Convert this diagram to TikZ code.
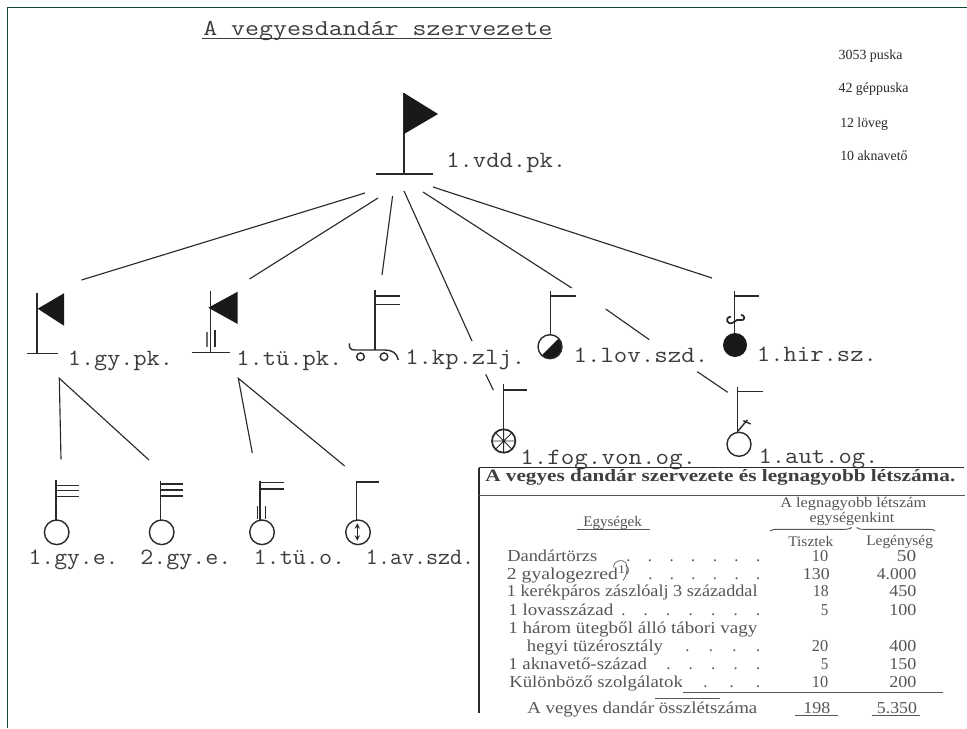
\documentclass[tikz,border=0pt]{standalone}
\usepackage{graphicx}
\usepackage{fontspec}
\setmainfont{Liberation Serif}
\newfontfamily\tw{Latin Modern Mono}
\newdimen\pxu \pxu=0.75pt
\definecolor{edgegreen}{HTML}{0F4A2C}
\definecolor{ink}{HTML}{2A2A2A}
\definecolor{tinktype}{HTML}{3C3C3C}
\definecolor{tinktab}{HTML}{555555}
\tikzset{
  typew/.style={inner sep=0,anchor=base west,text=tinktype,font=\tw\fontsize{17.5}{19}\selectfont},
  titlew/.style={inner sep=0,anchor=base west,text=tinktype,font=\tw\fontsize{17}{19}\selectfont},
  noteT/.style={inner sep=0,anchor=base west,text=ink,font=\fontsize{10.5}{12}\selectfont},
  tabT/.style={inner sep=0,anchor=base west,text=tinktab,font=\fontsize{12.5}{14}\selectfont},
  headT/.style={inner sep=0,anchor=base west,text=tinktab,font=\fontsize{11}{13}\selectfont},
  capT/.style={inner sep=0,anchor=base west,text=ink!90,font=\bfseries\fontsize{13}{15}\selectfont},
  conn/.style={draw=ink,line width=0.85pt},
  sym/.style={draw=ink,line width=1.05pt},
  thin rule/.style={draw=tinktab,line width=0.7pt},
  solidblk/.style={fill=black!90,draw=none},
}
% style, name, x, baseline y, width, text
\newcommand\lab[6]{\node[#1] (#2) at (#3,#4) {\resizebox{#5\pxu}{\height}{#6}};}
% style, name, x, baseline y, width, dots spread over the width
\newcommand\dotrow[5]{\node[#1] (#2) at (#3,#4) {\makebox[#5\pxu][s]{. . . . . . .}};}
\newcommand\dotrowN[6]{\node[#1] (#2) at (#3,#4) {\makebox[#5\pxu][s]{#6}};}
\begin{document}
\begin{tikzpicture}[x=0.75pt,y=-0.75pt]
\useasboundingbox (0,0) rectangle (967,728);
\fill[white] (0,0) rectangle (967,728);
\draw[edgegreen,line width=0.9pt] (967,7.3) -- (7.3,7.3) -- (7.3,728);

% title
\lab{titlew}{ttl}{203}{35}{349}{A vegyesdand\'ar szervezete}
\coordinate (ttlL) at (202,38.3); \coordinate (ttlR) at (552,38.3);
\draw[draw=tinktype,line width=0.8pt] (ttlL) -- (ttlR);

% notes
\lab{noteT}{n1}{838.3}{59.3}{64}{3053 puska}
\lab{noteT}{n2}{838.3}{92.7}{70}{42 géppuska}
\lab{noteT}{n3}{840}{127}{47.7}{12 löveg}
\lab{noteT}{n4}{840}{160.7}{67.3}{10 aknavető}

% top flag
\draw[sym] (404,93) -- (404,174);
\fill[solidblk] (404,93) -- (438,114) -- (404,134) -- cycle;
\draw[ink,line width=1.9pt] (376,174) -- (433,174);
\lab{typew}{vdd}{446}{167}{120}{1.vdd.pk.}

% regiments
\draw[sym] (37,293) -- (37,353);
\fill[solidblk] (37.7,308.7) -- (64,293.3) -- (64,325.7) -- cycle;
\draw[sym] (27,353.5) -- (58,353.5);
\lab{typew}{gypk}{67.7}{365.7}{105}{1.gy.pk.}

\draw[sym] (210.7,290.7) -- (210.7,352);
\fill[solidblk] (208.3,307.7) -- (237.7,291.7) -- (237.7,324) -- cycle;
\draw[sym] (191.7,352.7) -- (230,352.7);
\draw[sym,draw=ink!70,line width=1.4pt] (207.3,331.7) -- (207.3,347);
\draw[sym] (215,330) -- (215,346.7);
\lab{typew}{tupk}{236}{365}{106}{1.tü.pk.}

% bicycle battalion
\draw[sym] (375,290) -- (375,350);
\draw[sym] (375,296) -- (400,296) (375,304.3) -- (400,304.3);
\draw[sym] (349.3,343.3) .. controls (349.3,348) and (350,350) .. (355,350) -- (385,350) .. controls (392,350) and (397,353) .. (398.3,360);
\draw[sym] (360.5,356.7) circle[radius=3.8\pxu] (384,356.7) circle[radius=3.8\pxu];
\lab{typew}{kp}{405}{364}{120}{1.kp.zlj.}

% cavalry
\draw[sym] (550.7,290.7) -- (550.7,335) (550.7,296) -- (575.7,296);
\begin{scope}
\clip (533,364) -- (567,330) -- (567,364) -- cycle;
\fill[black!90] (550,346.7) circle[radius=12\pxu];
\end{scope}
\draw[sym] (550,346.7) circle[radius=12\pxu];
\lab{typew}{lov}{573.3}{362}{134.7}{1.lov.szd.}

% signals
\draw[sym] (734.7,290.7) -- (734.7,335) (734.7,296) -- (759.3,296);
\draw[sym,line width=1.3pt] (731,316.7) .. controls (727,316.5) and (725.5,321) .. (729,323) .. controls (732,324.5) and (735,321) .. (737,320) .. controls (740,319) and (744,322) .. (744.3,317.5) .. controls (744.3,315.5) and (742,315) .. (741,315);
\fill[black!90] (735,345) circle[radius=12\pxu];
\lab{typew}{hir}{756.7}{361.7}{120}{1.hir.sz.}

% motorcycle platoon
\draw[sym] (503.3,384) -- (503.3,429.3) (503.3,390) -- (526.7,390);
\draw[sym,line width=1.3pt] (503.7,441) circle[radius=11.7\pxu];
\draw[sym,line width=0.7pt] (503.7,429.3) -- (503.7,452.7) (492,441) -- (515.4,441) (495.4,432.7) -- (512,449.3) (495.4,449.3) -- (512,432.7);
\lab{typew}{fog}{520}{464}{176}{1.fog.von.og.}

% automatic platoon
\draw[sym] (737.3,386.7) -- (737.3,431.7) (737.3,391.7) -- (762.7,391.7);
\draw[sym] (737.3,431.7) -- (747.3,420) (743.3,420.7) -- (750.7,424);
\draw[sym] (739,444.3) circle[radius=12\pxu];
\lab{typew}{aut}{758.3}{463}{120}{1.aut.og.}

% bottom row
\draw[sym] (56,480) -- (56,520) (56,485.7) -- (79,485.7) (56,490.7) -- (79,490.7) (56,496.7) -- (79,496.7);
\draw[sym] (56.7,532.3) circle[radius=12.3\pxu];
\lab{typew}{gye1}{28.3}{564}{90}{1.gy.e.}

\draw[sym] (160.3,480.7) -- (160.3,520) (160.3,484) -- (182.7,484) (160.3,490) -- (182.7,490) (160.3,496) -- (182.7,496);
\draw[sym] (161.7,532.3) circle[radius=12.3\pxu];
\lab{typew}{gye2}{140}{564}{91}{2.gy.e.}

\draw[sym] (260,480.7) -- (260,520) (260,482.7) -- (284,482.7) (260,489) -- (284,489);
\draw[sym] (257.3,506) -- (257.3,519.3) (265.3,506) -- (265.3,519.3);
\draw[sym] (262,532.3) circle[radius=12.3\pxu];
\lab{typew}{tuo}{253.3}{564}{91.7}{1.tü.o.}

\draw[sym] (356.7,480.7) -- (356.7,520) (356.7,482) -- (378.7,482);
\draw[sym] (358,532.3) circle[radius=12.3\pxu];
\draw[sym,line width=0.8pt,stealth-stealth] (357.3,523.3) -- (357.3,540.7);
\lab{typew}{avszd}{365.7}{564}{108.3}{1.av.szd.}

% connectors
\coordinate (a1) at (365,193);   \coordinate (b1) at (81.5,280);
\coordinate (a2) at (378,198);   \coordinate (b2) at (249.5,279);
\coordinate (a3) at (392.6,196); \coordinate (b3) at (382,275);
\coordinate (a4) at (404,191);   \coordinate (b4) at (472,341);
\coordinate (d4) at (485.7,374.3); \coordinate (e4) at (493.3,390);
\coordinate (a5) at (423,192);   \coordinate (b5) at (571.7,288);
\coordinate (d5) at (605.7,309); \coordinate (e5) at (649.3,339.7);
\coordinate (f5) at (697.3,371.7); \coordinate (g5) at (727.7,392.3);
\coordinate (a6) at (433,187);   \coordinate (b6) at (712,278);
\draw[conn] (a1) -- (b1);
\draw[conn] (a2) -- (b2);
\draw[conn] (a3) -- (b3);
\draw[conn] (a4) -- (b4);
\draw[conn] (d4) -- (e4);
\draw[conn] (a5) -- (b5);
\draw[conn] (d5) -- (e5);
\draw[conn] (f5) -- (g5);
\draw[conn] (a6) -- (b6);
\coordinate (gyA) at (59.3,378.3); \coordinate (gyB) at (61,459.3); \coordinate (gyC) at (149,460);
\coordinate (tuA) at (238.3,378.3); \coordinate (tuB) at (252.3,453); \coordinate (tuC) at (344.7,466);
\draw[conn] (gyB) -- (gyA) -- (gyC);
\draw[conn] (tuB) -- (tuA) -- (tuC);

% table
\draw[ink,line width=0.9pt] (479,467.7) -- (479,713);
\draw[ink,line width=0.8pt] (479,467.7) -- (964,467.7);
\draw[draw=tinktab,line width=0.9pt] (479,495.7) -- (965,495.7);
\lab{capT}{cap}{485}{481.5}{470}{A vegyes dandár szervezete és legnagyobb létszáma.}

\lab{headT}{h1}{780}{507.7}{146}{A legnagyobb létszám}
\lab{headT}{h2}{809.3}{522.3}{84.7}{egységenkint}
\draw[thin rule] (770,531) .. controls (772,529.3) and (775,529.3) .. (778,529.3) -- (845,529.3) .. controls (849,529.3) and (851,528) .. (851.7,527.5);
\draw[thin rule] (856.7,527.5) .. controls (858,529) and (860,529.3) .. (864,529.3) -- (930,529.3) .. controls (933,529.3) and (934,530) .. (935,531);
\lab{headT}{eg}{583}{526}{58.7}{Egységek}
\draw[thin rule] (577,529) -- (650,529);
\lab{headT}{ti}{788}{546}{45}{Tisztek}
\lab{headT}{le}{866}{545.3}{66.7}{Legénység}

\lab{tabT}{r1}{507}{561.7}{90}{Dandártörzs}
\dotrowN{tabT}{r1d}{626}{561.7}{134}{. . . . . . .}
\lab{tabT}{r1a}{811.7}{561.7}{16.3}{10}
\lab{tabT}{r1b}{896.7}{561.7}{19.3}{50}

\lab{tabT}{r2}{506.7}{579}{123.3}{2 gyalogezred\textsuperscript{1)}}
\dotrowN{tabT}{r2d}{648}{579}{112}{. . . . . .}
\lab{tabT}{r2a}{802.7}{579}{26.7}{130}
\lab{tabT}{r2b}{876.7}{579}{39.3}{4.000}
\draw[tinktab,line width=0.5pt] (613.3,566.7) .. controls (614,561) and (622,558) .. (626,563) .. controls (628,568) and (627,576) .. (623,580.5);

\lab{tabT}{r3}{506.7}{596.7}{250.6}{1 kerékpáros zászlóalj 3 századdal}
\lab{tabT}{r3a}{812.7}{596.7}{15.7}{18}
\lab{tabT}{r3b}{889}{596.7}{27}{450}

\lab{tabT}{r4}{508}{615}{105}{1 lovasszázad}
\dotrowN{tabT}{r4d}{621}{615}{139}{. . . . . . .}
\lab{tabT}{r4a}{820.7}{615}{7.5}{5}
\lab{tabT}{r4b}{889}{615}{27}{100}

\lab{tabT}{r5}{508}{633}{249}{1 három ütegből álló tábori vagy}
\lab{tabT}{r6}{526.7}{651}{136}{hegyi tüzérosztály}
\dotrowN{tabT}{r6d}{685}{651}{75}{. . . .}
\lab{tabT}{r6a}{811.7}{651}{16.3}{20}
\lab{tabT}{r6b}{889}{651}{27}{400}

\lab{tabT}{r7}{508}{669}{138.7}{1 aknavető-század}
\dotrowN{tabT}{r7d}{666}{669}{94}{. . . . .}
\lab{tabT}{r7a}{820.7}{669}{7.5}{5}
\lab{tabT}{r7b}{889}{669}{27}{150}

\lab{tabT}{r8}{509}{687.3}{173.7}{Különböző szolgálatok}
\dotrowN{tabT}{r8d}{703}{687.3}{57}{. . .}
\lab{tabT}{r8a}{811.7}{687.3}{16.3}{10}
\lab{tabT}{r8b}{889}{687.3}{27}{200}

\draw[thin rule] (683,692.3) -- (942.7,692.3);
\draw[thin rule,line width=0.4pt] (655,698.3) -- (720,698.3);

\lab{tabT}{r9}{527}{713.3}{230}{A vegyes dandár összlétszáma}
\lab{tabT}{r9a}{803}{713.3}{27}{198}
\lab{tabT}{r9b}{876.7}{713.3}{40}{5.350}
\draw[thin rule] (795,715.5) -- (838,715.5);
\draw[thin rule] (871.7,715.5) -- (920,715.5);
\end{tikzpicture}
\end{document}
